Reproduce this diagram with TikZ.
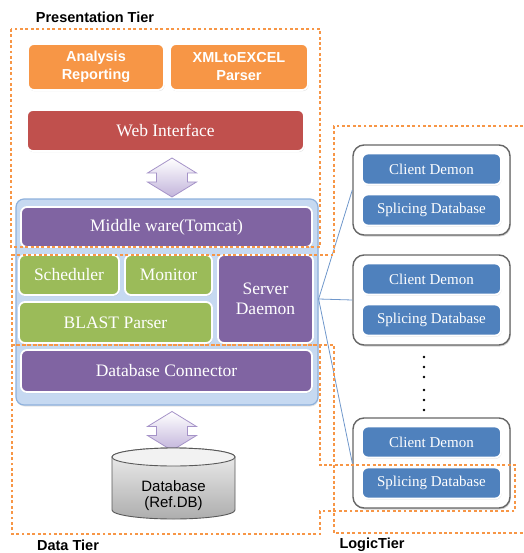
\documentclass[tikz,border=0pt]{standalone}
\usepackage{fontspec}
\setmainfont{Liberation Serif}
\setsansfont{Liberation Sans}
\usetikzlibrary{shadows}

\definecolor{tierorange}{HTML}{F79646}
\definecolor{boxred}{HTML}{C0504D}
\definecolor{boxpurple}{HTML}{8064A2}
\definecolor{boxgreen}{HTML}{9BBB59}
\definecolor{boxblue}{HTML}{4F81BD}
\definecolor{panelblue}{HTML}{C6D9F1}
\definecolor{paneledge}{HTML}{8EB1DC}
\definecolor{linkblue}{HTML}{6F97CB}
\definecolor{arrowlilac}{HTML}{C2B4DB}
\definecolor{arrowedge}{HTML}{A593C8}

\tikzset{
  part/.style={draw=white, line width=1.8pt, rounded corners=6pt, text=white,
    inner sep=0pt, align=center, font=\fontsize{17.5}{20}\selectfont,
    drop shadow={opacity=.25, shadow xshift=.6pt, shadow yshift=-1.2pt}},
  topbox/.style={part, fill=tierorange, font=\sffamily\bfseries\fontsize{14.5}{18}\selectfont},
  client/.style={part, fill=boxblue, minimum width=139, minimum height=31,
    font=\fontsize{15}{17}\selectfont},
  group/.style={draw=black!60, line width=1.4pt, fill=white, rounded corners=11pt,
    minimum width=157, minimum height=90,
    drop shadow={opacity=.35, shadow xshift=.8pt, shadow yshift=-1.5pt}},
  updown/.style={draw=arrowedge, line width=.8pt, top color=white, bottom color=arrowlilac},
  disk/.style={draw=black!65, line width=.9pt},
  tier/.style={draw=tierorange, line width=2.9pt, dash pattern=on 2.9pt off 2.5pt},
  tierlabel/.style={font=\sffamily\bfseries\fontsize{14.5}{16}\selectfont},
  link/.style={draw=linkblue, line width=.8pt}
}

\begin{document}
\begin{tikzpicture}[x=1pt,y=-1pt]
\useasboundingbox (0,0) rectangle (523,553);

% presentation side
\node[topbox, minimum width=136, minimum height=46] (report) at (96,67) {Analysis\\Reporting};
\node[topbox, minimum width=138, minimum height=46] (xmlparse) at (239,67) {XMLtoEXCEL\\Parser};
\node[part, fill=boxred, minimum width=277, minimum height=41] (webif) at (165.5,130.5) {Web Interface};

% server block
\node[draw=paneledge, line width=1.2pt, fill=panelblue, rounded corners=8pt,
  minimum width=302, minimum height=206,
  drop shadow={opacity=.2, shadow xshift=.6pt, shadow yshift=-1.5pt}] (server) at (167,302) {};
\node[part, fill=boxpurple, minimum width=291, minimum height=40] (middle) at (166.5,227) {Middle ware(Tomcat)};
\node[part, fill=boxgreen, minimum width=100, minimum height=40] (sched) at (69,275) {Scheduler};
\node[part, fill=boxgreen, minimum width=87, minimum height=40] (monitor) at (168.5,275) {Monitor};
\node[part, fill=boxgreen, minimum width=193, minimum height=41] (blast) at (115.5,322.5) {BLAST Parser};
\node[part, fill=boxpurple, minimum width=95, minimum height=88] (daemon) at (265.5,299) {Server\\Daemon};
\node[part, fill=boxpurple, minimum width=291, minimum height=42] (dbconn) at (166.5,371) {Database Connector};
\coordinate (hub) at (server.east |- daemon.east);

% two way arrows
\draw[updown, shift={(172,177.5)}] (0,-19.5) -- (24.5,-4.5) -- (15.5,-4.5) -- (15.5,4.5)
  -- (24.5,4.5) -- (0,19.5) -- (-24.5,4.5) -- (-15.5,4.5) -- (-15.5,-4.5) -- (-24.5,-4.5) -- cycle;
\draw[updown, shift={(172,431)}] (0,-19.5) -- (24.5,-4.5) -- (15.5,-4.5) -- (15.5,4.5)
  -- (24.5,4.5) -- (0,19.5) -- (-24.5,4.5) -- (-15.5,4.5) -- (-15.5,-4.5) -- (-24.5,-4.5) -- cycle;

% reference database disk
\draw[disk, top color=black!6, bottom color=black!32] (112,457) -- (112,510)
  arc[start angle=180, end angle=360, x radius=61.5pt, y radius=9pt] -- (235,457)
  arc[start angle=0, end angle=180, x radius=61.5pt, y radius=9pt] -- cycle;
\draw[disk, fill=black!5] (173.5,457) ellipse (61.5pt and 9pt);
\node[align=center, font=\sffamily\fontsize{15}{15.5}\selectfont] (refdb) at (173.5,495.5) {Database\\(Ref.DB)};

% client machines
\node[group] (groupA) at (431.5,190) {};
\node[client] (demonA) at (431.5,169) {Client Demon};
\node[client] (spliceA) at (431.5,210) {Splicing Database};
\node[group] (groupB) at (431.5,300) {};
\node[client] (demonB) at (431.5,279) {Client Demon};
\node[client] (spliceB) at (431.5,320) {Splicing Database};
\node[group] (groupC) at (431.5,463) {};
\node[client] (demonC) at (431.5,442) {Client Demon};
\node[client] (spliceC) at (431.5,483) {Splicing Database};

\draw[link] (hub) -- (groupA.west);
\draw[link] (hub) -- (groupB.west);
\draw[link] (hub) -- (groupC.west);

\fill (424,357) circle (1.3pt);
\fill (424,367) circle (1.3pt);
\fill (424,377) circle (1.3pt);
\fill (424,390) circle (1.3pt);
\fill (424,400) circle (1.3pt);
\fill (424,410) circle (1.3pt);

% tier borders
\draw[tier] (11,29) rectangle (320,247);
\draw[tier] (523,126) -- (334,126) -- (334,255) -- (12,255) -- (12,345) -- (334,345) -- (334,533) -- (523,533);
\draw[tier] (12,345) -- (320,345) -- (320,465) -- (515,465) -- (515,511) -- (320,511) -- (320,534) -- (12,534) -- cycle;

\node[tierlabel] (ptier) at (95,17) {Presentation Tier};
\node[tierlabel] (dtier) at (68,545) {Data Tier};
\node[tierlabel] (ltier) at (372,545) {LogicTier};
\end{tikzpicture}
\end{document}
